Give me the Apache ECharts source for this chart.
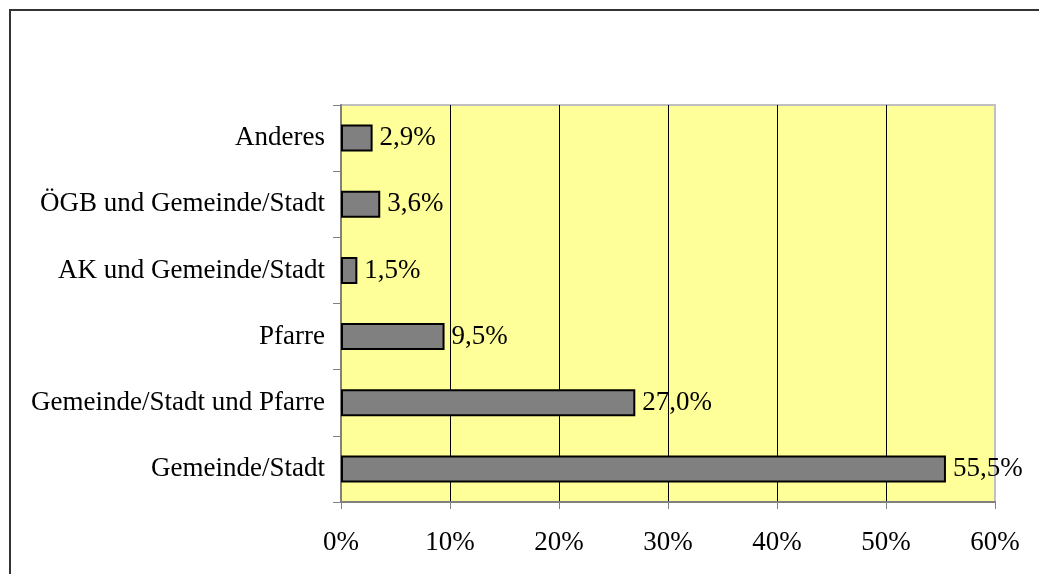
<!DOCTYPE html>
<html>
<head>
<meta charset="utf-8">
<script src="https://cdn.jsdelivr.net/npm/echarts@6/dist/echarts.min.js"></script>
<style>
  html, body { margin: 0; padding: 0; background: #fff; }
  #chart { width: 1039px; height: 574px; }
</style>
</head>
<body>
<div id="chart"></div>
<script>
// Daten (unten nach oben)
var categories = ['Gemeinde/Stadt', 'Gemeinde/Stadt und Pfarre', 'Pfarre', 'AK und Gemeinde/Stadt', 'ÖGB und Gemeinde/Stadt', 'Anderes'];
var values = [55.5, 27.0, 9.5, 1.5, 3.6, 2.9];
var xTicks = [0, 10, 20, 30, 40, 50, 60];

var font = '"Liberation Serif", "DejaVu Serif", serif';
var myChart = echarts.init(document.getElementById('chart'));

myChart.setOption({
  backgroundColor: '#fff',
  animation: false,
  graphic: [{
    type: 'rect',
    shape: { x: 10, y: 10, width: 1100, height: 700 },
    style: { fill: 'none', stroke: '#333', lineWidth: 2 },
    silent: true
  }],
  grid: {
    left: 341, top: 105, width: 654, height: 397,
    show: true,
    backgroundColor: '#FFFF99',
    borderColor: '#c0c0c0',
    borderWidth: 2
  },
  xAxis: {
    type: 'value',
    min: xTicks[0],
    max: xTicks[xTicks.length - 1],
    interval: 10,
    axisLine: { show: true, lineStyle: { color: '#808080', width: 2 } },
    axisTick: { show: true, length: 7, lineStyle: { color: '#808080', width: 1 } },
    axisLabel: {
      margin: 27,
      fontFamily: font, fontSize: 27, color: '#000',
      formatter: function (v) { return v + '%'; }
    },
    splitLine: {
      show: true,
      lineStyle: { color: ['#c0c0c0', '#000', '#000', '#000', '#000', '#000', '#c0c0c0'], width: 1 }
    }
  },
  yAxis: {
    type: 'category',
    data: categories,
    axisLine: { show: true, lineStyle: { color: '#808080', width: 2 } },
    axisTick: { show: true, length: 8, lineStyle: { color: '#808080', width: 1 } },
    axisLabel: { margin: 16, fontFamily: font, fontSize: 27, color: '#000' },
    splitLine: { show: false }
  },
  series: [{
    type: 'bar',
    data: values,
    barWidth: 27,
    itemStyle: { color: '#808080', borderColor: '#000', borderWidth: 2 },
    label: {
      show: true,
      position: 'right',
      distance: 7,
      fontFamily: font, fontSize: 27, color: '#000',
      formatter: function (p) { return p.value.toFixed(1).replace('.', ',') + '%'; }
    }
  }]
});
</script>
</body>
</html>
